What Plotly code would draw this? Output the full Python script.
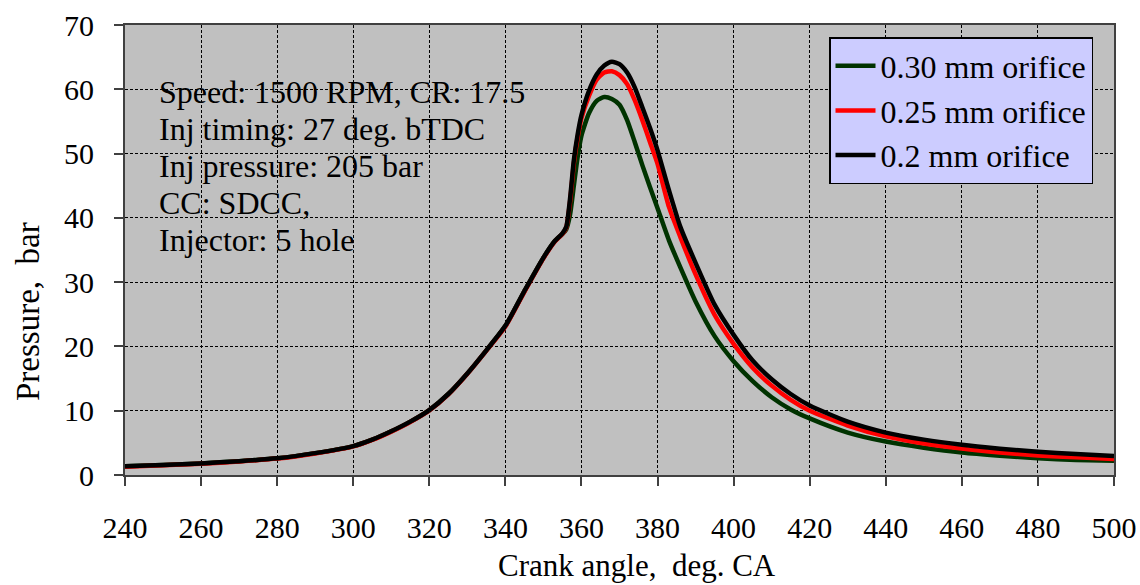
import plotly.graph_objects as go

crank_angle = [240, 250, 260, 270, 280, 290, 300, 305, 310, 315, 320, 325, 330, 335, 340, 345,
               350, 353, 355, 356, 357, 358, 359, 360, 362, 364, 366, 368, 370, 372, 374,
               376, 378, 380, 383, 386, 390, 395, 400, 405, 410, 415, 420, 430, 440, 450,
               460, 470, 480, 490, 500]

p_030 = [1.35, 1.55, 1.8, 2.15, 2.6, 3.4, 4.5, 5.5, 6.8, 8.3, 10.1, 12.6, 15.8, 19.4, 23.2, 28.6,
         33.8, 36.4, 37.5, 38.2, 40.5, 45.0, 49.5, 52.8, 56.3, 58.2, 58.8, 58.5, 57.6, 55.2, 51.8,
         48.2, 44.8, 41.5, 36.5, 32.3, 27.0, 21.6, 17.7, 14.6, 12.1, 10.2, 8.8, 6.6, 5.2, 4.25,
         3.5, 3.0, 2.6, 2.35, 2.2]

p_025 = [1.3, 1.5, 1.75, 2.1, 2.55, 3.35, 4.45, 5.45, 6.75, 8.25, 10.05, 12.55, 15.75, 19.35, 23.1, 28.5,
         33.7, 36.3, 37.5, 38.5, 42.5, 48.5, 52.5, 55.5, 59.0, 61.5, 62.6, 62.8, 62.2, 60.8, 58.3,
         55.2, 51.8, 48.4, 41.7, 37.0, 31.2, 24.9, 20.4, 16.7, 13.9, 11.7, 10.0, 7.7, 6.0, 4.9,
         4.1, 3.5, 3.05, 2.75, 2.5]

p_020 = [1.35, 1.55, 1.8, 2.15, 2.6, 3.4, 4.5, 5.5, 6.8, 8.3, 10.1, 12.6, 15.8, 19.4, 23.2, 28.6,
         33.8, 36.4, 37.6, 38.6, 43.0, 49.0, 53.0, 56.0, 59.8, 62.3, 63.7, 64.3, 63.9, 62.6, 60.3,
         57.2, 54.0, 50.5, 44.3, 38.6, 33.0, 26.5, 21.8, 17.8, 14.9, 12.6, 10.8, 8.3, 6.6, 5.5,
         4.7, 4.1, 3.6, 3.25, 2.95]

series_names = ["0.30 mm orifice", "0.25 mm orifice", "0.2 mm orifice"]
series_colors = ["#003300", "#ff0000", "#000000"]

x_ticks = list(range(240, 501, 20))
y_ticks = list(range(0, 71, 10))

info_lines = ["Speed: 1500 RPM, CR: 17.5", "Inj timing: 27 deg. bTDC",
              "Inj pressure: 205 bar", "CC: SDCC,", "Injector: 5 hole"]

FONT = "Liberation Serif, Times New Roman, serif"

fig = go.Figure()
for name, vals, col in zip(series_names, [p_030, p_025, p_020], series_colors):
    fig.add_trace(go.Scatter(x=crank_angle, y=vals, mode="lines", name=name,
                             line=dict(color=col, width=4.5, shape="spline", smoothing=0.6)))

L, R, T, B = 125, 26, 25, 110
W, H = 1140, 585
pw, ph = W - L - R, H - T - B

def px_x(x):
    return (x - L) / pw

def px_y(y):
    return (H - B - y) / ph

fig.update_layout(
    width=W, height=H,
    margin=dict(l=L, r=R, t=T, b=B, autoexpand=False),
    paper_bgcolor="white",
    plot_bgcolor="#c0c0c0",
    font=dict(family=FONT, size=30, color="black"),
    showlegend=True,
    legend=dict(x=px_x(1093), y=px_y(37), xanchor="right", yanchor="top",
                bgcolor="#ccccff", bordercolor="black", borderwidth=1.5,
                font=dict(family=FONT, size=32, color="black"),
                tracegroupgap=0, itemwidth=40),
    xaxis=dict(range=[240, 500], tickvals=x_ticks, ticks="outside", ticklen=9,
               tickcolor="#404040", tickwidth=1.5, automargin=False,
               showline=True, linecolor="#404040", linewidth=2, mirror=True,
               showgrid=True, gridcolor="black", gridwidth=1, griddash="3px,2px",
               zeroline=False, ticklabelstandoff=16,
               tickfont=dict(family=FONT, size=30)),
    yaxis=dict(range=[0, 70], tickvals=y_ticks, ticks="outside", ticklen=9,
               tickcolor="#404040", tickwidth=1.5, automargin=False,
               showline=True, linecolor="#404040", linewidth=2, mirror=True,
               showgrid=True, gridcolor="black", gridwidth=1, griddash="3px,2px",
               zeroline=False, ticklabelstandoff=14,
               tickfont=dict(family=FONT, size=30)),
)

annotations = []
centers = [92, 129, 166, 203, 240]
for txt, yc in zip(info_lines, centers):
    annotations.append(dict(text=txt, xref="paper", yref="paper", x=px_x(157), y=px_y(yc),
                            xanchor="left", yanchor="middle", showarrow=False,
                            font=dict(family=FONT, size=32, color="black")))
annotations.append(dict(text="Crank angle,  deg. CA", xref="paper", yref="paper",
                        x=px_x(637), y=px_y(565), xanchor="center", yanchor="middle",
                        showarrow=False, font=dict(family=FONT, size=31, color="black")))
annotations.append(dict(text="Pressure,  bar", xref="paper", yref="paper",
                        x=px_x(28), y=px_y(312), xanchor="center", yanchor="middle",
                        textangle=-90, showarrow=False,
                        font=dict(family=FONT, size=33, color="black")))
fig.update_layout(annotations=annotations)

fig.write_html("out.html")
